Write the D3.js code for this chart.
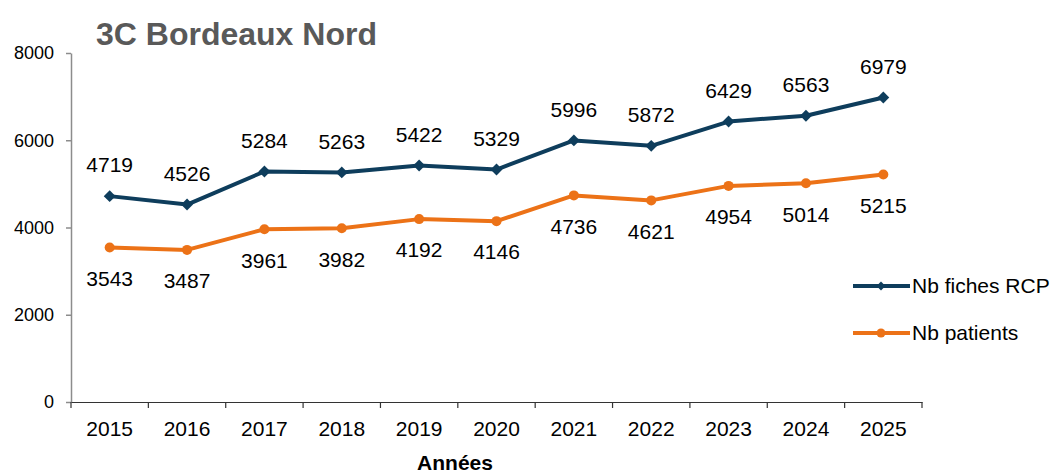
<!DOCTYPE html>
<html><head><meta charset="utf-8">
<script src="https://cdn.jsdelivr.net/npm/d3@7"></script>
<style>body{margin:0;background:#fff}svg{display:block;font-family:"Liberation Sans",Arial,sans-serif}</style>
</head><body><svg id="c" width="1053" height="476"></svg>
<script>
const years = ["2015","2016","2017","2018","2019","2020","2021","2022","2023","2024","2025"];
const rcp = [4719,4526,5284,5263,5422,5329,5996,5872,6429,6563,6979];
const patients = [3543,3487,3961,3982,4192,4146,4736,4621,4954,5014,5215];
const yTicks = [0,2000,4000,6000,8000];
const seriesNames = ["Nb fiches RCP","Nb patients"];

const svg = d3.select("#c");
const x = d3.scaleBand().domain(years).range([71,922]);
const y = d3.scaleLinear().domain([0,8000]).range([402,53]);
const cRcp = "#0e3d5c", cPat = "#ec7217";
const FF = "Liberation Sans, Arial, sans-serif";

// y axis
const ya = svg.append("g").attr("transform","translate(71,0)")
  .call(d3.axisLeft(y).tickValues(yTicks).tickFormat(d3.format("d")).tickSize(5).tickSizeOuter(0).tickPadding(12));
ya.select(".domain").attr("stroke","#8c8c8c").attr("stroke-width",1.5);
ya.selectAll(".tick line").attr("stroke","#8c8c8c").attr("stroke-width",1.5);
ya.selectAll("text").attr("font-size",18).attr("fill","#000").attr("font-family",FF);

// x axis
const xa = svg.append("g").attr("transform","translate(0,402)")
  .call(d3.axisBottom(x).tickSize(0).tickPadding(19));
xa.select(".domain").attr("stroke","#333").attr("stroke-width",1.2);
xa.selectAll("text").attr("font-size",21).attr("fill","#000").attr("font-family",FF);
svg.append("g").selectAll("line").data(years.concat(["end"])).join("line")
  .attr("x1",(d,i)=>71+i*x.step()).attr("x2",(d,i)=>71+i*x.step())
  .attr("y1",402).attr("y2",408).attr("stroke","#333").attr("stroke-width",1.2);

const cx = d => x(d)+x.bandwidth()/2;
const line = d3.line().x((d,i)=>cx(years[i])).y(d=>y(d));

// patients
svg.append("path").datum(patients).attr("d",line).attr("fill","none").attr("stroke",cPat).attr("stroke-width",4).attr("stroke-linejoin","round");
svg.append("g").selectAll("circle").data(patients).join("circle")
  .attr("cx",(d,i)=>cx(years[i])).attr("cy",d=>y(d)).attr("r",5).attr("fill",cPat);
// rcp
svg.append("path").datum(rcp).attr("d",line).attr("fill","none").attr("stroke",cRcp).attr("stroke-width",4).attr("stroke-linejoin","round");
const diamond = d3.symbol().type(d3.symbolDiamond2).size(90);
svg.append("g").selectAll("path").data(rcp).join("path")
  .attr("d",diamond).attr("transform",(d,i)=>`translate(${cx(years[i])},${y(d)})`).attr("fill",cRcp);

// labels
svg.append("g").selectAll("text").data(rcp).join("text")
  .attr("x",(d,i)=>cx(years[i])).attr("y",d=>y(d)-31).attr("dy","0.35em")
  .attr("text-anchor","middle").attr("font-size",21).text(d=>d);
svg.append("g").selectAll("text").data(patients).join("text")
  .attr("x",(d,i)=>cx(years[i])).attr("y",d=>y(d)+31).attr("dy","0.35em")
  .attr("text-anchor","middle").attr("font-size",21).text(d=>d);

// title
svg.append("text").attr("x",96).attr("y",45).attr("font-size",32).attr("font-weight","bold")
  .attr("fill","#595959").text("3C Bordeaux Nord");
// x title
svg.append("text").attr("x",455).attr("y",470).attr("text-anchor","middle").attr("font-size",21)
  .attr("font-weight","bold").text("Années");

// legend
const lg = svg.append("g");
[[cRcp,286,"d"],[cPat,333,"c"]].forEach((s,i)=>{
  lg.append("line").attr("x1",853).attr("x2",910).attr("y1",s[1]).attr("y2",s[1]).attr("stroke",s[0]).attr("stroke-width",4);
  if(s[2]==="d") lg.append("path").attr("d",d3.symbol().type(d3.symbolDiamond2).size(50)).attr("transform",`translate(881,${s[1]})`).attr("fill",s[0]);
  else lg.append("circle").attr("cx",881).attr("cy",s[1]).attr("r",4.5).attr("fill",s[0]);
  lg.append("text").attr("x",912).attr("y",s[1]).attr("dy","0.35em").attr("font-size",21).text(seriesNames[i]);
});
</script></body></html>
